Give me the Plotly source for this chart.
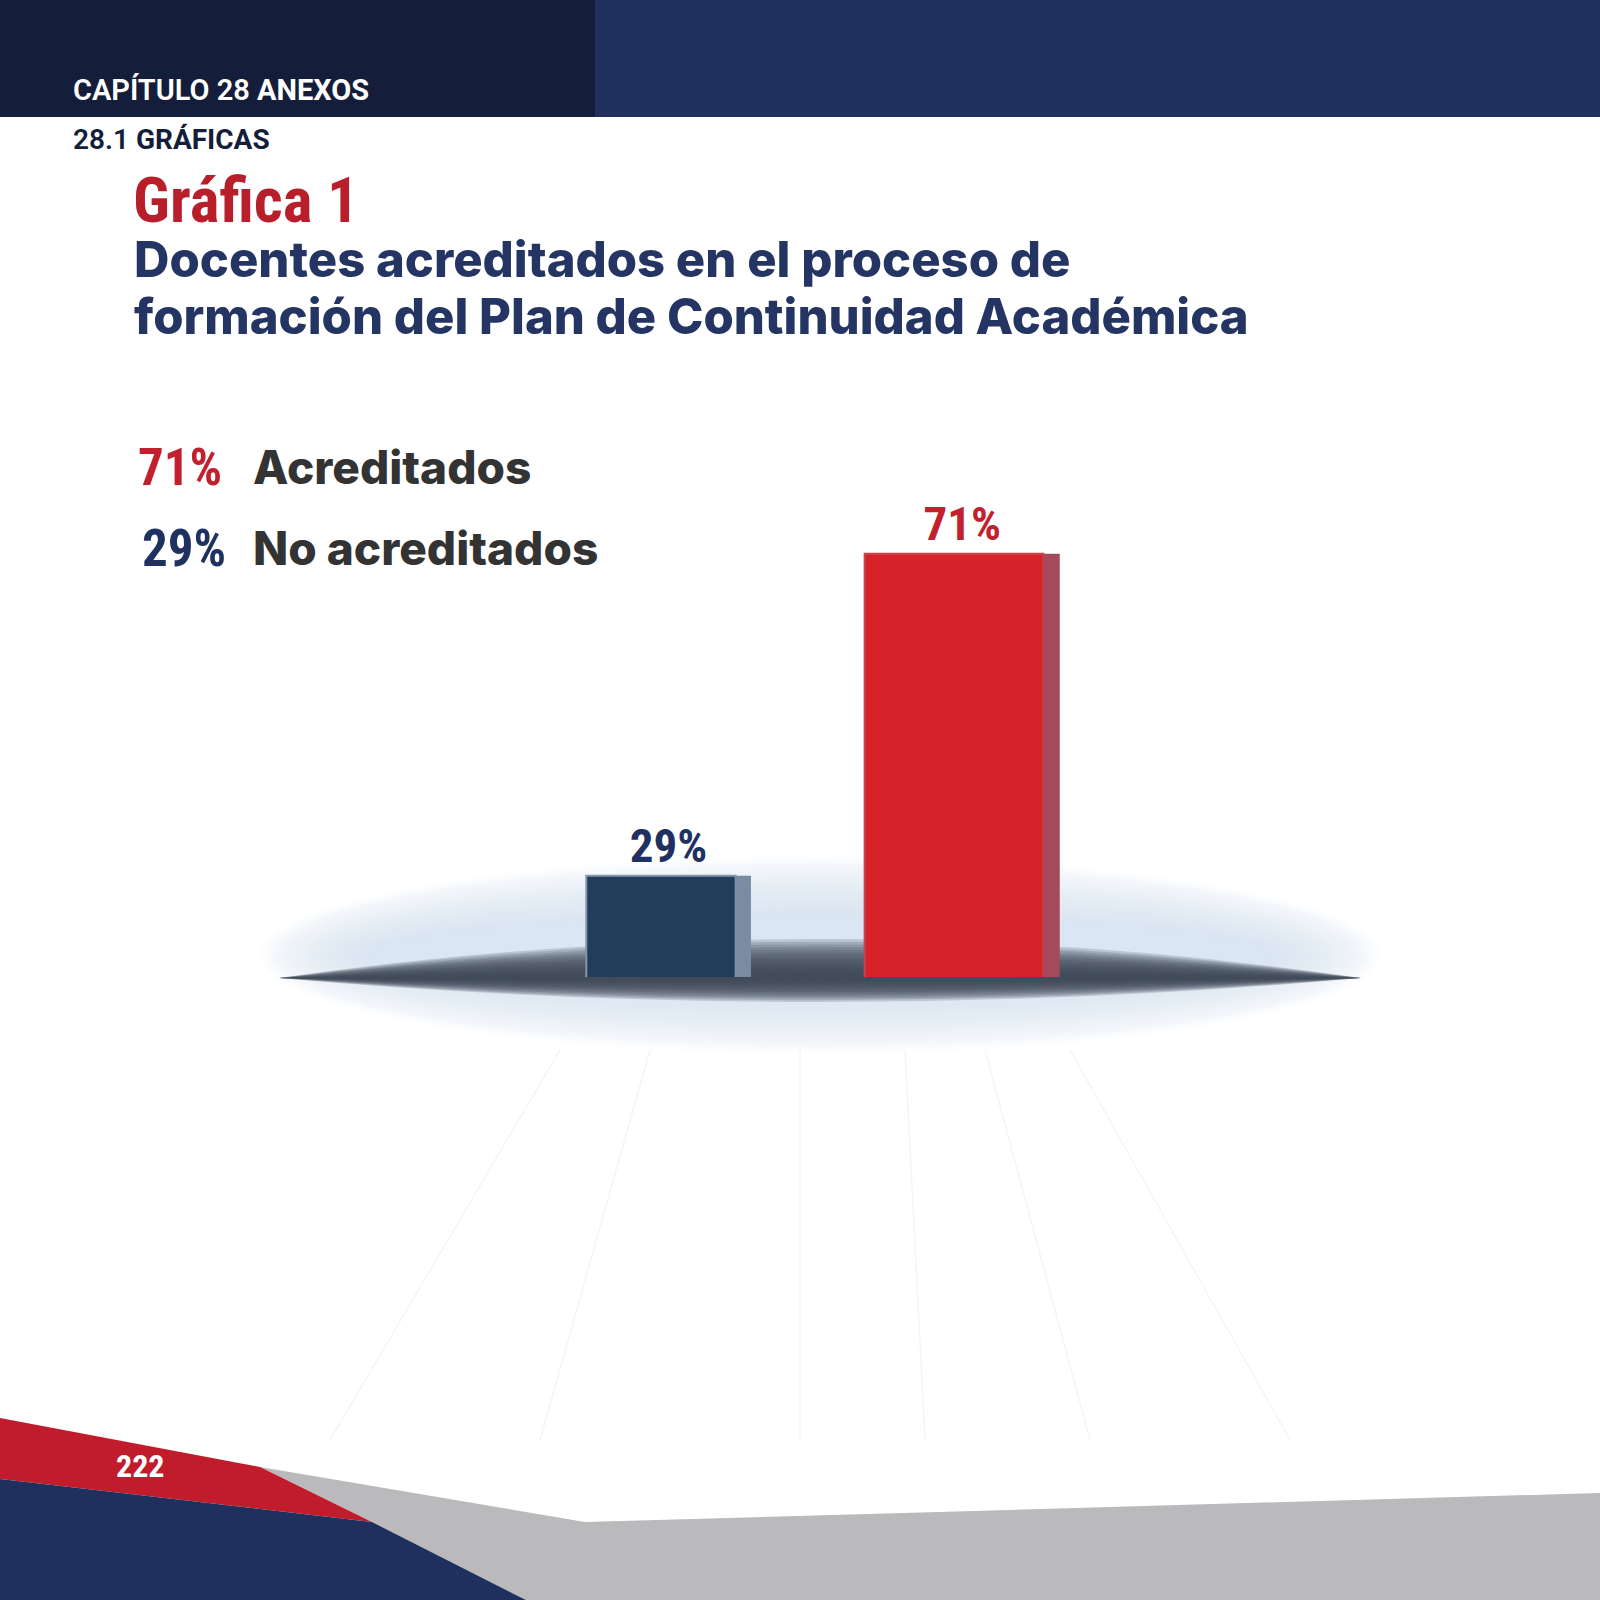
import plotly.graph_objects as go

# datos de la gráfica
categorias = ["No acreditados", "Acreditados"]
porcentajes = [29, 71]
etiquetas = ["29%", "71%"]

# estilo
W = H = 1600
AZUL_OSCURO = "#141d39"
AZUL = "#1f2f5e"
ROJO = "#c01c2c"
GRIS_TXT = "#333333"
frente = ["#223d5c", "#d52329"]
lado = ["#7a8ca3", "#a54a5a"]
borde = ["#8496ad", "#c8454f"]
color_etiqueta = ["#1f3160", "#c1202c"]
ancho = [0.51, 0.61]
ancho_lado = [0.052, 0.056]

CONDENSADA = ("Roboto Condensed, Noto Sans Condensed, Open Sans Condensed, "
              "Liberation Sans Narrow, DejaVu Sans Condensed, sans-serif")
TITULAR = "Inter, Lato, sans-serif"


def px(x, y):
    # pixel de la pagina -> coordenadas paper
    return x / W, 1 - y / H


def poly(puntos):
    p = [px(x, y) for x, y in puntos]
    return "M " + " L ".join(f"{a:.5f},{b:.5f}" for a, b in p) + " Z"


fig = go.Figure()

# cara frontal
fig.add_trace(go.Bar(
    x=categorias, y=porcentajes,
    width=ancho, offset=[-w / 2 for w in ancho],
    marker=dict(color=frente, line=dict(color=borde, width=2)),
    hoverinfo="skip", showlegend=False,
))
# cara lateral
fig.add_trace(go.Bar(
    x=categorias, y=porcentajes,
    width=ancho_lado, offset=[w / 2 for w in ancho],
    marker=dict(color=lado, line=dict(width=0)),
    hoverinfo="skip", showlegend=False,
))
# etiquetas centradas sobre el bloque completo
fig.add_trace(go.Bar(
    x=categorias, y=porcentajes,
    width=[w + s for w, s in zip(ancho, ancho_lado)], offset=[-w / 2 for w in ancho],
    marker=dict(color="rgba(0,0,0,0)", line=dict(width=0)),
    text=etiquetas, textposition="outside", cliponaxis=False,
    textfont=dict(family=CONDENSADA, size=47, color=color_etiqueta, weight="bold"),
    hoverinfo="skip", showlegend=False,
))

shapes = []
# cabecera
shapes.append(dict(type="rect", xref="paper", yref="paper", x0=0, x1=1,
                   y0=px(0, 117)[1], y1=1, fillcolor=AZUL, line_width=0))
shapes.append(dict(type="rect", xref="paper", yref="paper", x0=0, x1=595 / W,
                   y0=px(0, 117)[1], y1=1, fillcolor=AZUL_OSCURO, line_width=0))

# halo claro alrededor de la base
cx, cy = 820, 955
n = 22
for i in range(n):
    t = i / (n - 1)
    hw = 560 - 110 * t
    hh = 98 - 60 * t
    x0, y0 = px(cx - hw, cy + hh)
    x1, y1 = px(cx + hw, cy - hh)
    shapes.append(dict(type="circle", xref="paper", yref="paper", layer="below",
                       x0=x0, x1=x1, y0=y0, y1=y1,
                       fillcolor="#d6e6f1", opacity=0.08, line_width=0))

# sombra oscura en forma de lente
xl, xr, yb = 279, 1361, 978
n = 14
for i in range(n):
    t = i / (n - 1)
    up = 78 * (1 - 0.9 * t)
    dn = 48 * (1 - 0.9 * t)
    a = px(xl, yb)
    c1 = px((xl + xr) / 2, yb - up)
    b = px(xr, yb)
    c2 = px((xl + xr) / 2, yb + dn)
    path = (f"M {a[0]:.5f},{a[1]:.5f} Q {c1[0]:.5f},{c1[1]:.5f} {b[0]:.5f},{b[1]:.5f} "
            f"Q {c2[0]:.5f},{c2[1]:.5f} {a[0]:.5f},{a[1]:.5f} Z")
    shapes.append(dict(type="path", xref="paper", yref="paper", layer="below",
                       path=path, fillcolor="#3a4757", opacity=0.2, line_width=0))

# lineas tenues del piso
for xa, xb in [(560, 330), (650, 540), (800, 800), (905, 925), (985, 1090),
               (1070, 1290)]:
    a = px(xa, 1050)
    b = px(xb, 1440)
    shapes.append(dict(type="line", xref="paper", yref="paper", layer="below",
                       x0=a[0], y0=a[1], x1=b[0], y1=b[1],
                       line=dict(color="#f4f5f7", width=1.5)))

# pie de pagina
shapes.append(dict(type="path", xref="paper", yref="paper",
                   path=poly([(260, 1467), (585, 1522), (1600, 1493), (1600, 1600),
                              (526, 1600), (372, 1522)]),
                   fillcolor="#bab9bb", line_width=0))
shapes.append(dict(type="path", xref="paper", yref="paper",
                   path=poly([(0, 1418), (260, 1467), (372, 1522), (0, 1479)]),
                   fillcolor=ROJO, line_width=0))
shapes.append(dict(type="path", xref="paper", yref="paper",
                   path=poly([(0, 1479), (372, 1522), (526, 1600), (0, 1600)]),
                   fillcolor=AZUL, line_width=0))


def texto(t, x, y, size, color, family, anchor="left", weight="bold"):
    xp, yp = px(x, y)
    return dict(text=t, x=xp, y=yp, xref="paper", yref="paper",
                xanchor=anchor, yanchor="middle", showarrow=False,
                font=dict(family=family, size=size, color=color, weight=weight))


annotations = [
    texto("CAPÍTULO 28 <b>ANEXOS</b>", 71, 90, 29, "white", "Roboto, sans-serif", weight=600),
    texto("28.1 <b>GRÁFICAS</b>", 71, 139, 28, AZUL_OSCURO, "Roboto, sans-serif", weight=600),
    texto("Gráfica 1", 131, 201, 63, "#b81f2b", CONDENSADA),
    texto("Docentes acreditados en el proceso de", 132, 259, 49, "#243463", TITULAR, weight=800),
    texto("formación del Plan de Continuidad Académica", 132, 316, 49, "#243463", TITULAR, weight=800),
    texto(etiquetas[1], 224, 467, 51, color_etiqueta[1], CONDENSADA, anchor="right"),
    texto(categorias[1], 251, 467, 46, GRIS_TXT, TITULAR, weight=800),
    texto(etiquetas[0], 228, 548, 51, color_etiqueta[0], CONDENSADA, anchor="right"),
    texto(categorias[0], 251, 548, 46, GRIS_TXT, TITULAR, weight=800),
    texto("222", 140, 1466, 32, "white", CONDENSADA, anchor="center"),
]

fig.update_layout(
    width=W, height=H,
    margin=dict(l=0, r=0, t=0, b=0),
    paper_bgcolor="white", plot_bgcolor="rgba(0,0,0,0)",
    barmode="overlay",
    showlegend=False,
    xaxis=dict(domain=[514.5 / W, 1100.5 / W], range=[-0.5, 1.5], visible=False,
               fixedrange=True),
    yaxis=dict(domain=[1 - 977 / H, 1 - 484.8 / H], range=[15.8, 80], visible=False,
               fixedrange=True),
    shapes=shapes,
    annotations=annotations,
)

fig.write_html("out.html", config={"displayModeBar": False},
               post_script="document.body.style.margin='0';")
